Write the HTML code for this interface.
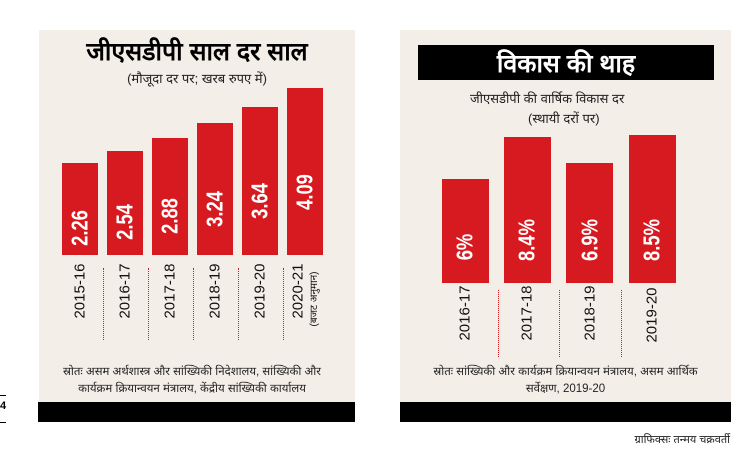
<!DOCTYPE html>
<html><head><meta charset="utf-8"><style>
body{margin:0;width:749px;height:457px;background:#fff;position:relative;overflow:hidden;font-family:"Liberation Sans","Noto Sans CJK SC",sans-serif;}
.a{position:absolute}
.p{background:#f4eee8}
.bar{position:absolute;background:#d71920}
.r{position:absolute;transform:translate(-50%,-50%) rotate(-90deg);white-space:nowrap}
.v{color:#fff;font-family:"Liberation Sans Narrow","Liberation Sans",sans-serif;font-weight:bold;font-size:23px;transform:translate(-50%,-50%) rotate(-90deg) scaleX(0.8)}
.y{color:#111;font-size:15px}
.sep{position:absolute;width:0;border-left:1px dotted #d71920}
.c{position:absolute;text-align:center;color:#222;white-space:nowrap}
</style></head><body>
<div class="a p" style="left:39px;top:30px;width:316px;height:392px"></div>
<div class="a" style="left:38px;top:402px;width:317px;height:20px;background:#000"></div>
<div class="c" style="left:39px;width:316px;top:34px;font-size:25px;font-weight:bold;color:#000">जीएसडीपी साल दर साल</div>
<div class="c" style="left:39px;width:316px;top:69px;font-size:13px">(मौजूदा दर पर; खरब रुपए में)</div>

<div class="bar" style="left:62px;top:163px;width:36px;height:92px"></div>
<div class="bar" style="left:107px;top:151px;width:36px;height:104px"></div>
<div class="bar" style="left:152px;top:138px;width:36px;height:117px"></div>
<div class="bar" style="left:197px;top:123px;width:36px;height:132px"></div>
<div class="bar" style="left:242px;top:107px;width:36px;height:148px"></div>
<div class="bar" style="left:287px;top:88px;width:36px;height:167px"></div>
<div class="r v" style="left:80px;top:228px">2.26</div>
<div class="r v" style="left:125px;top:222px">2.54</div>
<div class="r v" style="left:170px;top:216px">2.88</div>
<div class="r v" style="left:215px;top:209px">3.24</div>
<div class="r v" style="left:260px;top:201px">3.64</div>
<div class="r v" style="left:305px;top:192px">4.09</div>

<div class="r y" style="left:80px;top:291px">2015-16</div>
<div class="r y" style="left:125px;top:291px">2016-17</div>
<div class="r y" style="left:170px;top:291px">2017-18</div>
<div class="r y" style="left:215px;top:291px">2018-19</div>
<div class="r y" style="left:260px;top:291px">2019-20</div>
<div class="r y" style="left:298px;top:291px">2020-21</div>
<div class="r" style="left:313px;top:299px;font-size:10px;color:#111">(बजट अनुमान)</div>
<div class="sep" style="left:103px;top:268px;height:72px"></div>
<div class="sep" style="left:148px;top:268px;height:72px"></div>
<div class="sep" style="left:193px;top:268px;height:72px"></div>
<div class="sep" style="left:238px;top:268px;height:72px"></div>
<div class="sep" style="left:283px;top:268px;height:72px"></div>
<div class="c" style="left:39px;width:306px;top:364px;font-size:11.5px;line-height:17px">स्रोतः असम अर्थशास्त्र और सांख्यिकी निदेशालय, सांख्यिकी और<br>कार्यक्रम क्रियान्वयन मंत्रालय, केंद्रीय सांख्यिकी कार्यालय</div>

<div class="a p" style="left:400px;top:30px;width:331px;height:392px"></div>
<div class="a" style="left:400px;top:402px;width:331px;height:20px;background:#000"></div>
<div class="a" style="left:418px;top:45px;width:296px;height:35px;background:#000"></div>
<div class="c" style="left:418px;width:296px;top:46px;font-size:25px;font-weight:bold;color:#fff">विकास की थाह</div>
<div class="c" style="left:470px;top:89px;font-size:13px">जीएसडीपी की वार्षिक विकास दर</div>
<div class="c" style="left:528px;top:109px;font-size:13px">(स्थायी दरों पर)</div>

<div class="bar" style="left:442px;top:179px;width:47px;height:104px"></div>
<div class="bar" style="left:504px;top:137px;width:47px;height:146px"></div>
<div class="bar" style="left:566px;top:163px;width:47px;height:120px"></div>
<div class="bar" style="left:629px;top:135px;width:47px;height:148px"></div>
<div class="r v" style="left:465px;top:247px">6%</div>
<div class="r v" style="left:527px;top:240px">8.4%</div>
<div class="r v" style="left:590px;top:240px">6.9%</div>
<div class="r v" style="left:652px;top:240px">8.5%</div>
<div class="r y" style="left:465px;top:313px">2016-17</div>
<div class="r y" style="left:527px;top:313px">2017-18</div>
<div class="r y" style="left:590px;top:313px">2018-19</div>
<div class="r y" style="left:652px;top:315px">2019-20</div>
<div class="sep" style="left:498px;top:290px;height:67px"></div>
<div class="sep" style="left:559px;top:290px;height:67px"></div>
<div class="sep" style="left:621px;top:290px;height:67px"></div>
<div class="c" style="left:400px;width:331px;top:364px;font-size:11.5px;line-height:17px">स्रोतः सांख्यिकी और कार्यक्रम क्रियान्वयन मंत्रालय, असम आर्थिक<br>सर्वेक्षण, 2019-20</div>
<div class="a" style="right:19px;top:432px;font-size:11px;color:#222">ग्राफिक्सः तन्मय चक्रवर्ती</div>

<div class="a" style="left:0;top:395px;width:6px;border-top:1px solid #000"></div>
<div class="a" style="left:0;top:400px;font-size:11px;font-weight:bold">4</div>
<div class="a" style="left:0;top:422px;width:6px;border-top:1px solid #000"></div>
</body></html>
